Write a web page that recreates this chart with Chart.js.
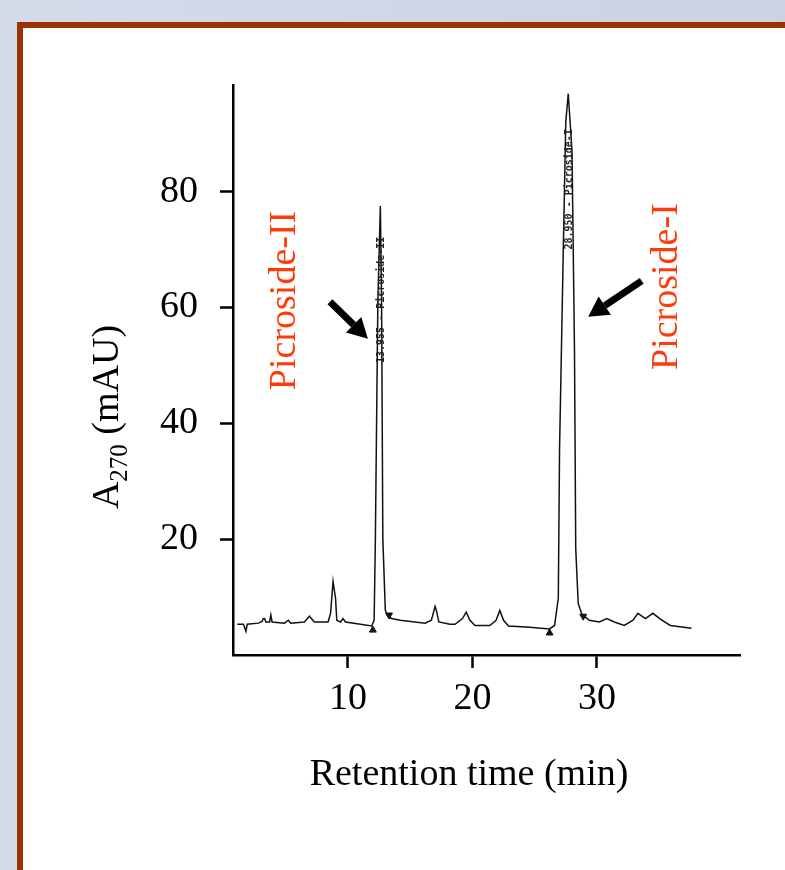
<!DOCTYPE html>
<html>
<head>
<meta charset="utf-8">
<script src="https://cdn.jsdelivr.net/npm/chart.js@4.4.0/dist/chart.umd.min.js"></script>
<style>
  html, body { margin: 0; padding: 0; }
  body {
    width: 785px; height: 870px; overflow: hidden; position: relative;
    background: linear-gradient(to right, #d4dcea, #c9d3e5);
  }
  #panel {
    position: absolute; left: 17px; top: 22px; width: 820px; height: 900px;
    background: #fff; border: 6px solid #9a3300; box-sizing: border-box;
  }
  #chartBox { position: absolute; left: 0; top: 0; width: 785px; height: 870px; }
</style>
</head>
<body>
<div id="panel"></div>
<div id="chartBox"><canvas id="hplc" width="785" height="870"></canvas></div>
<script>
/* ---- chromatogram trace (retention time, min / absorbance, mAU) ---- */
const retention = [
  1.1, 1.6, 1.8, 1.9, 2.8, 3.1, 3.2, 3.3, 3.4, 3.7, 3.8, 3.9, 4.9, 5.2, 5.4,
  6.5, 6.9, 7.3, 8.4, 8.6, 8.8, 9.0, 9.1, 9.4, 9.6, 9.8, 11.0, 11.9, 12.1,
  12.2, 12.4, 12.6, 12.7, 12.8, 13.0, 13.2, 13.5, 14.2, 16.2, 16.7, 17.0,
  17.1, 17.3, 18.2, 18.6, 19.2, 19.5, 19.8, 20.2, 21.4, 21.9, 22.2, 22.5,
  22.9, 24.6, 26.2, 26.6, 26.9, 27.0, 27.3, 27.5, 27.7, 28.0, 28.2, 28.3,
  28.5, 28.8, 29.4, 30.2, 30.8, 31.4, 32.2, 32.9, 33.3, 33.9, 34.5, 35.1,
  35.9, 37.6
];
const absorbance = [
  5.3, 5.3, 4.1, 5.3, 5.5, 5.8, 6.3, 6.3, 5.7, 5.7, 6.9, 5.7, 5.5, 6.0, 5.5,
  5.7, 6.7, 5.7, 5.7, 7.2, 12.7, 9.8, 6.0, 5.7, 6.3, 5.7, 5.3, 5.0, 6.0,
  20, 61, 77.5, 61, 20, 7.7, 6.7, 6.3, 6.0, 5.5, 6.0, 8.4,
  7.7, 5.7, 5.3, 5.3, 6.3, 7.4, 6.0, 5.1, 5.1, 6.0, 7.7, 6.0,
  5.0, 4.8, 4.5, 5.1, 9.8, 35.5, 69.8, 92, 96.9, 87, 52.7, 18.4,
  8.9, 7.0, 6.0, 5.7, 6.3, 5.7, 5.1, 6.0, 7.2, 6.3, 7.2, 6.2,
  5.1, 4.6
];

/* integration markers (triangles) */
const markerTimes = [12.0, 13.3, 26.2, 28.9];
const markerValues = [4.3, 6.9, 3.8, 6.7];
const markerTurn = [0, 180, 0, 180];

/* axis ticks */
const xTicks = [10, 20, 30];
const yTicks = [20, 40, 60, 80];

/* peak names and printer tags */
const peakNames = ["Picroside-II", "Picroside-I"];
const peakTimes = [12.6, 27.7];
const peakTags = ["13.955 - Picroside-II", "28.950 - Picroside-I"];
const tagStart = [50.4, 70];
const nameAt = [[4.9, 61.2], [35.6, 63.6]];
const arrowFrom = [[8.55, 61.0], [33.6, 64.6]];
const arrowTo = [[11.6, 54.6], [29.3, 58.4]];

const SERIF = '"Liberation Serif", "Times New Roman", serif';

/* --------------------------------------------
   annotations: titles, names, arrows, tags
-------------------------------------------- */
const annotate = {
  id: "annotate",
  afterDatasetsDraw(chart) {
    const ctx = chart.ctx;
    const xs = chart.scales.x, ys = chart.scales.y;
    const px = v => xs.getPixelForValue(v);
    const py = v => ys.getPixelForValue(v);
    ctx.save();

    // printer tags along the peaks
    ctx.fillStyle = "#222";
    ctx.font = "bold 10px 'DejaVu Sans Mono', monospace";
    ctx.textBaseline = "middle";
    ctx.textAlign = "left";
    peakTimes.forEach((t, i) => {
      ctx.save();
      ctx.translate(px(t) + 1, py(tagStart[i]));
      ctx.rotate(-Math.PI / 2);
      ctx.fillText(peakTags[i], 0, 0);
      ctx.restore();
    });

    // peak names (red, rotated)
    ctx.fillStyle = "#ff3a0a";
    ctx.font = "38px " + SERIF;
    ctx.textAlign = "center";
    peakNames.forEach((n, i) => {
      ctx.save();
      ctx.translate(px(nameAt[i][0]), py(nameAt[i][1]));
      ctx.rotate(-Math.PI / 2);
      ctx.fillText(n, 0, 0);
      ctx.restore();
    });

    // arrows
    ctx.fillStyle = "#000";
    ctx.strokeStyle = "#000";
    arrowFrom.forEach((f, i) => {
      const x1 = px(f[0]), y1 = py(f[1]);
      const x2 = px(arrowTo[i][0]), y2 = py(arrowTo[i][1]);
      const a = Math.atan2(y2 - y1, x2 - x1);
      const head = 20, half = 11;
      const bx = x2 - head * Math.cos(a), by = y2 - head * Math.sin(a);
      ctx.lineWidth = 7;
      ctx.beginPath();
      ctx.moveTo(x1, y1);
      ctx.lineTo(bx, by);
      ctx.stroke();
      ctx.beginPath();
      ctx.moveTo(x2, y2);
      ctx.lineTo(bx + half * Math.sin(a), by - half * Math.cos(a));
      ctx.lineTo(bx - half * Math.sin(a), by + half * Math.cos(a));
      ctx.closePath();
      ctx.fill();
    });

    // x title
    ctx.fillStyle = "#000";
    ctx.textAlign = "center";
    ctx.textBaseline = "alphabetic";
    ctx.font = "38px " + SERIF;
    ctx.fillText("Retention time (min)", 469, 785);

    // y title with subscript
    ctx.save();
    ctx.translate(118, 417);
    ctx.rotate(-Math.PI / 2);
    const big = "38px " + SERIF, small = "25px " + SERIF;
    ctx.font = big; const wA = ctx.measureText("A").width;
    ctx.font = small; const wS = ctx.measureText("270").width;
    ctx.font = big; const wR = ctx.measureText(" (mAU)").width;
    let x0 = -(wA + wS + wR) / 2;
    ctx.textAlign = "left";
    ctx.font = big; ctx.fillText("A", x0, 0); x0 += wA;
    ctx.font = small; ctx.fillText("270", x0, 9); x0 += wS;
    ctx.font = big; ctx.fillText(" (mAU)", x0, 0);
    ctx.restore();

    ctx.restore();
  }
};

new Chart(document.getElementById("hplc"), {
  type: "line",
  data: {
    datasets: [
      {
        label: "A270",
        data: retention.map((t, i) => ({ x: t, y: absorbance[i] })),
        borderColor: "#111",
        borderWidth: 1.5,
        pointRadius: 0,
        tension: 0,
        fill: false
      },
      {
        type: "scatter",
        label: "markers",
        data: markerTimes.map((t, i) => ({ x: t, y: markerValues[i] })),
        pointStyle: "triangle",
        rotation: markerTurn,
        pointRadius: 4,
        backgroundColor: "#111",
        borderColor: "#111",
        borderWidth: 1
      }
    ]
  },
  options: {
    responsive: false,
    devicePixelRatio: 1,
    animation: false,
    layout: { padding: { top: 85, right: 45, left: 0, bottom: 0 } },
    plugins: { legend: { display: false }, tooltip: { enabled: false } },
    scales: {
      x: {
        type: "linear",
        min: 0.76,
        max: 41.5,
        afterFit: s => { s.height = 215; },
        afterBuildTicks: s => { s.ticks = xTicks.map(v => ({ value: v })); },
        border: { display: true, color: "#000", width: 2.5 },
        grid: { drawOnChartArea: false, tickLength: 13, tickColor: "#000", tickWidth: 2.5 },
        ticks: { color: "#000", font: { family: SERIF, size: 38 }, padding: 8, maxRotation: 0 }
      },
      y: {
        type: "linear",
        min: 0,
        max: 98.4,
        afterFit: s => { s.width = 233; },
        afterBuildTicks: s => { s.ticks = yTicks.map(v => ({ value: v })); },
        border: { display: true, color: "#000", width: 2.5 },
        grid: { drawOnChartArea: false, tickLength: 13, tickColor: "#000", tickWidth: 2.5 },
        ticks: { color: "#000", font: { family: SERIF, size: 38 }, padding: 22 }
      }
    }
  },
  plugins: [annotate]
});
</script>
</body>
</html>
